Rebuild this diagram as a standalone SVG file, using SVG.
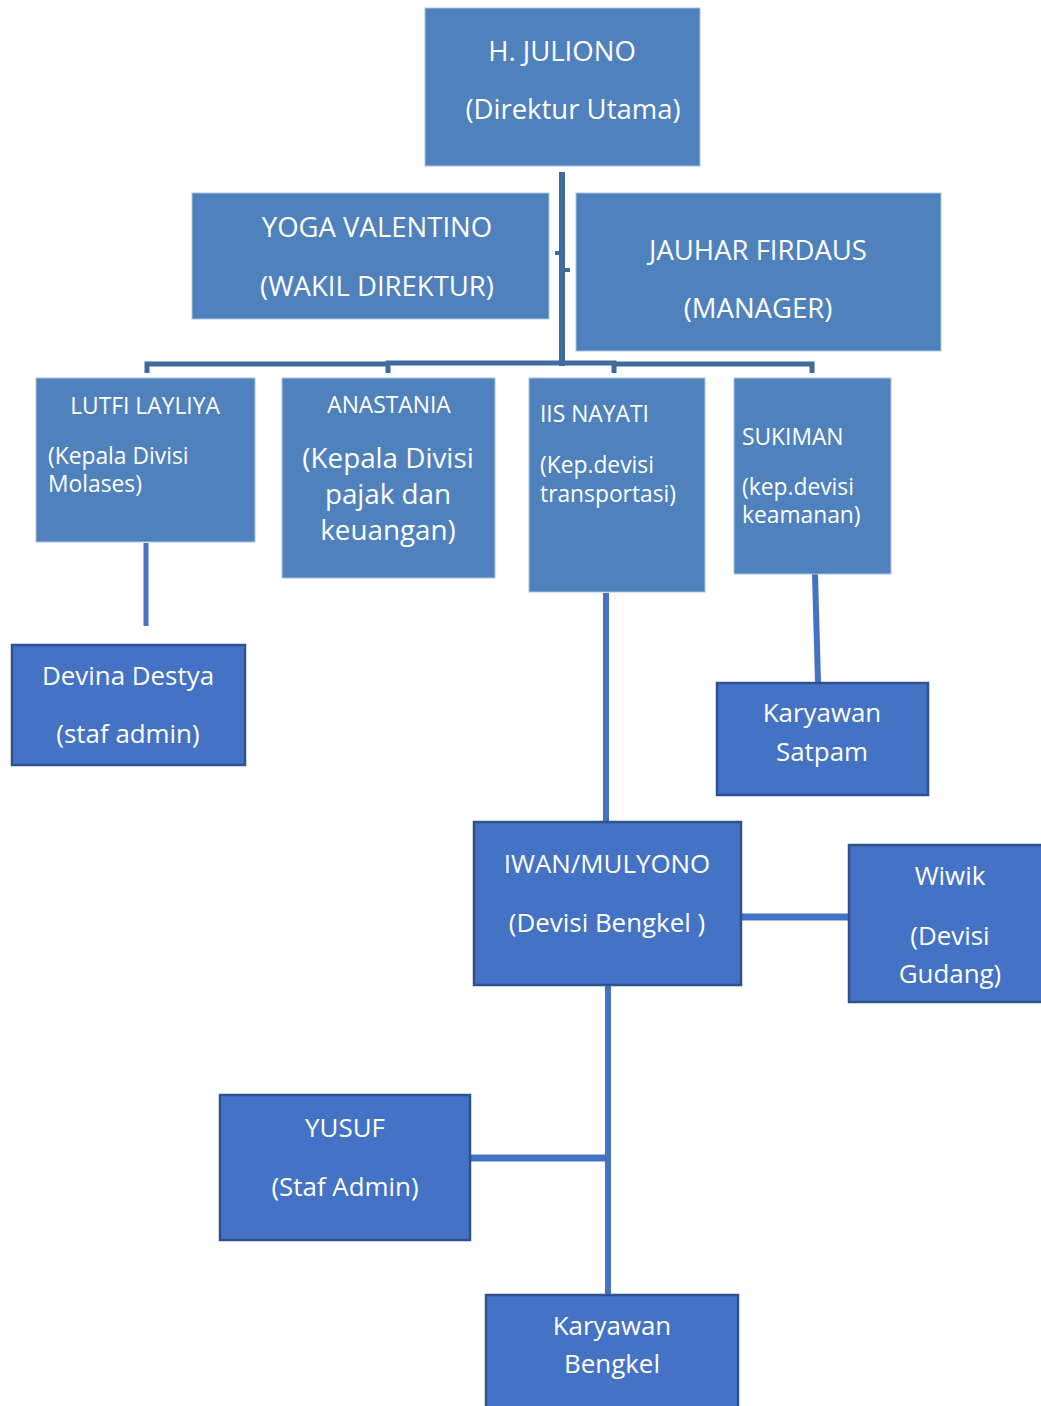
<svg xmlns="http://www.w3.org/2000/svg" width="1041" height="1406" viewBox="0 0 1041 1406">
<style>
.a{fill:#4F81BD;stroke:#A9C3E3;stroke-width:1}
.b{fill:#4472C4;stroke:#2F528F;stroke-width:2.5}
text{font-family:"Open Sans",Lato,sans-serif;fill:#FFFFFF}
.c{text-anchor:middle}
.f26{font-size:27.5px}
.f25{font-size:25.9px}
.f22{font-size:22.8px}
.f28{font-size:27.8px}
.ct{stroke:#3F6B9E;fill:none}
.cb{stroke:#4472C4;fill:none}
</style>
<rect width="1041" height="1406" fill="#FFFFFF"/>
<g id="connectors">
<line class="ct" x1="562" y1="172" x2="562" y2="366" stroke-width="6"/>
<line class="ct" x1="555" y1="253" x2="560" y2="253" stroke-width="4"/>
<line class="ct" x1="564" y1="270" x2="570" y2="270" stroke-width="4"/>
<path class="ct" d="M147,373 V364 H388 M388,373 V363 H614 V373 M614,364 H812 V373" stroke-width="5"/>
<line class="cb" x1="146" y1="543" x2="146" y2="626" stroke-width="5"/>
<line class="cb" x1="606" y1="593" x2="606" y2="821" stroke-width="6"/>
<line class="cb" x1="815" y1="574" x2="818" y2="682" stroke-width="6"/>
<line class="cb" x1="742" y1="917" x2="848" y2="917" stroke-width="7"/>
<line class="cb" x1="608" y1="986" x2="608" y2="1294" stroke-width="6"/>
<line class="cb" x1="471" y1="1158" x2="606" y2="1158" stroke-width="7"/>
</g>
<g id="n-juliono">
<rect class="a" x="425" y="8" width="275" height="158"/>
<text class="c f26" x="562" y="61">H. JULIONO</text>
<text class="c f26" x="573" y="119">(Direktur Utama)</text>
</g>
<g id="n-yoga">
<rect class="a" x="192" y="193" width="357" height="126"/>
<text class="c f26" x="377" y="237">YOGA VALENTINO</text>
<text class="c f26" x="377" y="296">(WAKIL DIREKTUR)</text>
</g>
<g id="n-jauhar">
<rect class="a" x="576" y="193" width="365" height="158"/>
<text class="c f26" x="758" y="260">JAUHAR FIRDAUS</text>
<text class="c f26" x="758" y="318">(MANAGER)</text>
</g>
<g id="n-lutfi">
<rect class="a" x="36" y="378" width="219" height="164"/>
<text class="c f22" x="145" y="414">LUTFI LAYLIYA</text>
<text class="f22" x="48" y="464">(Kepala Divisi</text>
<text class="f22" x="48" y="492">Molases)</text>
</g>
<g id="n-anastania">
<rect class="a" x="282" y="378" width="213" height="200"/>
<text class="c f22" x="389" y="413">ANASTANIA</text>
<text class="c f28" x="388" y="468">(Kepala Divisi</text>
<text class="c f28" x="388" y="504">pajak dan</text>
<text class="c f28" x="388" y="540">keuangan)</text>
</g>
<g id="n-iis">
<rect class="a" x="529" y="378" width="176" height="214"/>
<text class="f22" x="540" y="422">IIS NAYATI</text>
<text class="f22" x="540" y="473">(Kep.devisi</text>
<text class="f22" x="540" y="502">transportasi)</text>
</g>
<g id="n-sukiman">
<rect class="a" x="734" y="378" width="157" height="196"/>
<text class="f22" x="742" y="445">SUKIMAN</text>
<text class="f22" x="742" y="495">(kep.devisi</text>
<text class="f22" x="742" y="523">keamanan)</text>
</g>
<g id="n-devina">
<rect class="b" x="12" y="645" width="233" height="120"/>
<text class="c f25" x="128" y="685">Devina Destya</text>
<text class="c f25" x="128" y="743">(staf admin)</text>
</g>
<g id="n-satpam">
<rect class="b" x="717" y="683" width="211" height="112"/>
<text class="c f25" x="822" y="722">Karyawan</text>
<text class="c f25" x="822" y="761">Satpam</text>
</g>
<g id="n-iwan">
<rect class="b" x="474" y="822" width="267" height="163"/>
<text class="c f25" x="607" y="873">IWAN/MULYONO</text>
<text class="c f25" x="607" y="932">(Devisi Bengkel )</text>
</g>
<g id="n-wiwik">
<rect class="b" x="849" y="845" width="200" height="157"/>
<text class="c f25" x="950" y="885">Wiwik</text>
<text class="c f25" x="950" y="945">(Devisi</text>
<text class="c f25" x="950" y="983">Gudang)</text>
</g>
<g id="n-yusuf">
<rect class="b" x="220" y="1095" width="250" height="145"/>
<text class="c f25" x="345" y="1137">YUSUF</text>
<text class="c f25" x="345" y="1196">(Staf Admin)</text>
</g>
<g id="n-bengkel">
<rect class="b" x="486" y="1295" width="252" height="120"/>
<text class="c f25" x="612" y="1335">Karyawan</text>
<text class="c f25" x="612" y="1373">Bengkel</text>
</g>
</svg>
